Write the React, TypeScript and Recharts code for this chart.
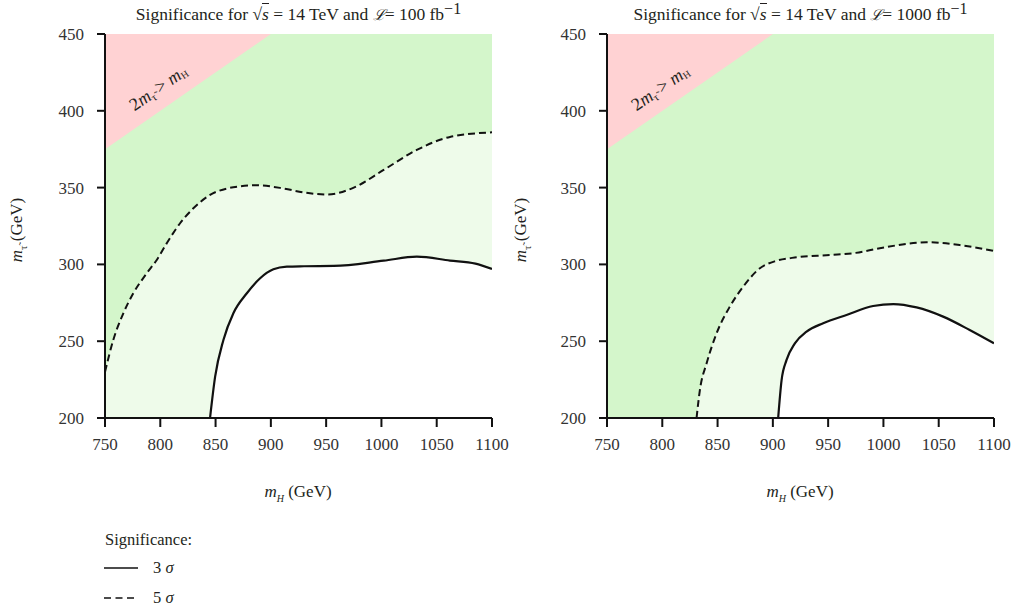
import React from 'react'
import { ComposedChart, Area, Line, XAxis, YAxis, ReferenceDot } from 'recharts'

const FONT = '"Liberation Serif", "DejaVu Serif", serif'
const INK = '#231f20'
const PINK = '#ffd2d3'
const GREEN = '#d4f6cb'
const LIGHT = '#eefbea'

const X_TICKS = [750, 800, 850, 900, 950, 1000, 1050, 1100]
const Y_TICKS = [200, 250, 300, 350, 400, 450]

// upper edge of the plot and the 2 m_stau > m_H limit
const topMH = [750, 1100]
const topMStau = [450, 450]
const limitMH = [750, 900, 1100]
const limitMStau = [375, 450, 450]

// L = 100 fb^-1
const l100Sig5MH = [750, 757.5, 766.6, 775.6, 787.7, 796.8, 805.8, 817.9, 829.9, 845, 866, 887, 911, 930, 951, 975, 1002, 1032, 1062, 1100]
const l100Sig5MStau = [230, 250.8, 268.2, 281.2, 294.2, 302.9, 313.7, 326.8, 336.5, 345.2, 350.2, 351.5, 349.5, 346.8, 345.5, 350, 361.5, 374.5, 383, 386]
const l100Sig3MH = [845, 849.6, 857.1, 866.1, 878.3, 890.3, 902.3, 914.5, 930, 957, 1002, 1032, 1062, 1085, 1100]
const l100Sig3MStau = [200, 226.9, 250.8, 268.2, 281.2, 291, 296.8, 298.5, 298.8, 299, 302.4, 305, 302.5, 300.5, 297]

// L = 1000 fb^-1
const l1000Sig5MH = [831, 834, 840.1, 849.1, 861.1, 873.2, 888.3, 903.4, 921.4, 951.5, 975, 996.7, 1039, 1069, 1100]
const l1000Sig5MStau = [200, 218.2, 235.6, 255.1, 272.5, 285.5, 297.5, 302.4, 304.6, 306.1, 307.5, 310.5, 314.4, 312.6, 308.7]
const l1000Sig3MH = [904.8, 907.9, 912.4, 919.9, 930.5, 945.5, 966.6, 990.7, 1009, 1030, 1054, 1078, 1100]
const l1000Sig3MStau = [200, 224.7, 237.8, 248.6, 256.2, 261.7, 267.1, 272.9, 274.2, 272, 266, 257.3, 248.6]

type Series = { key: string; x: number[]; y: number[] }

function mergeRows(series: Series[]) {
  const rows = new Map<number, any>()
  series.forEach((s) => {
    s.x.forEach((x, i) => {
      const row = rows.get(x) ?? { mH: x }
      row[s.key] = s.y[i]
      rows.set(x, row)
    })
  })
  return [...rows.values()].sort((a, b) => a.mH - b.mH)
}

const data100 = mergeRows([
  { key: 'top', x: topMH, y: topMStau },
  { key: 'limit', x: limitMH, y: limitMStau },
  { key: 'sig5', x: l100Sig5MH, y: l100Sig5MStau },
  { key: 'sig3', x: l100Sig3MH, y: l100Sig3MStau },
])

const data1000 = mergeRows([
  { key: 'top', x: topMH, y: topMStau },
  { key: 'limit', x: limitMH, y: limitMStau },
  { key: 'sig5', x: l1000Sig5MH, y: l1000Sig5MStau },
  { key: 'sig3', x: l1000Sig3MH, y: l1000Sig3MStau },
])

const tickStyle = { fontFamily: FONT, fontSize: 17, fill: '#333' }

const KinLabel = (props: any) => {
  const vb = props.viewBox || { x: 0, y: 0, width: 0, height: 0 }
  const cx = vb.x + vb.width / 2
  const cy = vb.y + vb.height / 2
  return (
    <text
      x={cx}
      y={cy}
      transform={`rotate(-35 ${cx} ${cy})`}
      textAnchor="middle"
      dominantBaseline="central"
      fontFamily={FONT}
      fontSize={18}
      fill={INK}
    >
      2<tspan fontStyle="italic">m</tspan>
      <tspan fontSize={11} dy={5}>τ̃</tspan>
      <tspan dy={-5}> &gt; </tspan>
      <tspan fontStyle="italic">m</tspan>
      <tspan fontSize={10} dy={4}>H</tspan>
    </text>
  )
}

function Panel({ data, left, width, marginLeft, marginRight }: any) {
  return (
    <div style={{ position: 'absolute', left, top: 0 }}>
      <ComposedChart
        width={width}
        height={460}
        data={data}
        margin={{ top: 34, right: marginRight, bottom: 0, left: marginLeft }}
      >
        <XAxis
          dataKey="mH"
          type="number"
          domain={[750, 1100]}
          ticks={X_TICKS}
          allowDataOverflow
          height={42}
          tick={tickStyle}
          tickSize={9}
          tickMargin={11}
          axisLine={{ stroke: '#111', strokeWidth: 2 }}
          tickLine={{ stroke: '#111', strokeWidth: 2 }}
        />
        <XAxis
          xAxisId="top"
          orientation="top"
          type="number"
          domain={[750, 1100]}
          height={0}
          tick={false}
          tickLine={false}
          axisLine={{ stroke: '#111', strokeWidth: 2 }}
        />
        <YAxis
          type="number"
          domain={[200, 450]}
          ticks={Y_TICKS}
          allowDataOverflow
          width={60}
          tick={tickStyle}
          tickSize={8}
          tickMargin={13}
          axisLine={{ stroke: '#111', strokeWidth: 2 }}
          tickLine={{ stroke: '#111', strokeWidth: 2 }}
        />
        <YAxis
          yAxisId="right"
          orientation="right"
          type="number"
          domain={[200, 450]}
          width={0}
          tick={false}
          tickLine={false}
          axisLine={{ stroke: '#111', strokeWidth: 2 }}
        />
        <Area dataKey="top" type="linear" baseValue="dataMin" fill={PINK} fillOpacity={1} stroke="none" connectNulls isAnimationActive={false} />
        <Area dataKey="limit" type="linear" baseValue="dataMin" fill={GREEN} fillOpacity={1} stroke="none" connectNulls isAnimationActive={false} />
        <Area dataKey="sig5" type="monotone" baseValue="dataMin" fill={LIGHT} fillOpacity={1} stroke="none" connectNulls isAnimationActive={false} />
        <Area dataKey="sig3" type="monotone" baseValue="dataMin" fill="#ffffff" fillOpacity={1} stroke="none" connectNulls isAnimationActive={false} />
        <Line dataKey="sig5" type="monotone" stroke="#111" strokeWidth={2} strokeDasharray="7 4" dot={false} connectNulls isAnimationActive={false} />
        <Line dataKey="sig3" type="monotone" stroke="#111" strokeWidth={2.2} dot={false} connectNulls isAnimationActive={false} />
        <ReferenceDot x={798} y={415} r={1} fill="none" stroke="none" label={KinLabel} />
      </ComposedChart>
    </div>
  )
}

const MStauLabel = () => (
  <span>
    <i>m</i>
    <sub style={{ fontSize: 11 }}>τ̃</sub>&nbsp;(GeV)
  </span>
)

function Title({ left, width, lumi }: any) {
  return (
    <div
      style={{
        position: 'absolute',
        left,
        width,
        top: 4,
        lineHeight: '20px',
        textAlign: 'center',
        fontSize: 17.5,
        whiteSpace: 'nowrap',
        color: INK,
      }}
    >
      Significance for √<span style={{ borderTop: `1px solid ${INK}`, fontStyle: 'italic' }}>s</span> = 14 TeV and{' '}
      <span style={{ fontFamily: '"DejaVu Serif", serif', fontStyle: 'italic', fontSize: 15 }}>ℒ</span>= {lumi} fb
      <sup style={{ fontSize: 16, verticalAlign: '6px', lineHeight: 0 }}>−1</sup>
    </div>
  )
}

export default function App() {
  return (
    <div
      style={{
        position: 'absolute',
        left: 0,
        top: 0,
        width: 1021,
        height: 611,
        background: '#fff',
        fontFamily: FONT,
        color: INK,
      }}
    >
      <Title left={105} width={387} lumi="100" />
      <Title left={607} width={387} lumi="1000" />

      <Panel data={data100} left={0} width={510} marginLeft={45} marginRight={18} />
      <Panel data={data1000} left={510} width={511} marginLeft={37} marginRight={27} />

      {[18, 522].map((x) => (
        <div
          key={x}
          style={{
            position: 'absolute',
            left: x,
            top: 230,
            transform: 'translate(-50%, -50%) rotate(-90deg)',
            fontSize: 17,
            whiteSpace: 'nowrap',
          }}
        >
          <MStauLabel />
        </div>
      ))}

      {[298, 800].map((x) => (
        <div
          key={x}
          style={{
            position: 'absolute',
            left: x,
            top: 493,
            transform: 'translate(-50%, -50%)',
            fontSize: 17,
            whiteSpace: 'nowrap',
          }}
        >
          <i>m</i>
          <sub style={{ fontSize: 10, fontStyle: 'italic' }}>H</sub>&nbsp;(GeV)
        </div>
      ))}

      <div style={{ position: 'absolute', left: 105, top: 530, fontSize: 16.5, lineHeight: '20px' }}>Significance:</div>
      <div style={{ position: 'absolute', left: 104, top: 558, fontSize: 16.5, lineHeight: '20px', display: 'flex', alignItems: 'center' }}>
        <svg width={34} height={4}>
          <line x1={0} y1={2} x2={34} y2={2} stroke="#111" strokeWidth={1.5} />
        </svg>
        <span style={{ marginLeft: 15 }}>
          3 <i>σ</i>
        </span>
      </div>
      <div style={{ position: 'absolute', left: 104, top: 588, fontSize: 16.5, lineHeight: '20px', display: 'flex', alignItems: 'center' }}>
        <svg width={34} height={4}>
          <line x1={0} y1={2} x2={34} y2={2} stroke="#111" strokeWidth={1.5} strokeDasharray="7 4.5" />
        </svg>
        <span style={{ marginLeft: 15 }}>
          5 <i>σ</i>
        </span>
      </div>
    </div>
  )
}
